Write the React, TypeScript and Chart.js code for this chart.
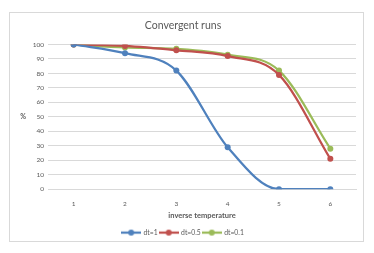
import React, { useEffect, useRef } from "react";
import { Chart, registerables } from "chart.js";

Chart.register(...registerables);

const categories = ["1", "2", "3", "4", "5", "6"];
const seriesNames = ["dt=1", "dt=0.5", "dt=0.1"];
const dt1 = [100, 94, 82, 29, 0, 0];
const dt05 = [100, 99, 96, 92, 79, 21];
const dt01 = [100, 98, 97, 93, 82, 28];
const colors = ["#4F81BD", "#C0504D", "#9BBB59"];
const FONT = "Lato, 'Liberation Sans', sans-serif";
const TEXT = "#595959";

function legendIcon(color: string): HTMLCanvasElement {
  const c = document.createElement("canvas");
  c.width = 20;
  c.height = 8;
  const ctx = c.getContext("2d")!;
  ctx.strokeStyle = color;
  ctx.lineWidth = 2.25;
  ctx.beginPath();
  ctx.moveTo(0, 4);
  ctx.lineTo(20, 4);
  ctx.stroke();
  ctx.fillStyle = color;
  ctx.beginPath();
  ctx.arc(10, 4, 3, 0, Math.PI * 2);
  ctx.fill();
  return c;
}

const framePlugin = {
  id: "frame",
  beforeDraw(chart: any) {
    const ctx = chart.ctx;
    ctx.save();
    ctx.fillStyle = "#ffffff";
    ctx.fillRect(0, 0, chart.width, chart.height);
    ctx.strokeStyle = "#d9d9d9";
    ctx.lineWidth = 1;
    ctx.strokeRect(9.5, 12.5, 354, 229);
    ctx.restore();
  },
  afterDraw(chart: any) {
    const ctx = chart.ctx;
    const y = chart.scales.y;
    ctx.save();
    ctx.fillStyle = TEXT;
    ctx.font = "bold 7px " + FONT;
    ctx.textAlign = "center";
    ctx.textBaseline = "middle";
    ctx.fillText("%", 23, (y.top + y.bottom) / 2);
    ctx.restore();
  },
};

export default function App() {
  const ref = useRef<HTMLCanvasElement>(null);
  useEffect(() => {
    const data = [dt1, dt05, dt01];
    const icons = colors.map(legendIcon);
    const chart = new Chart(ref.current!, {
      type: "line",
      data: {
        labels: categories,
        datasets: data.map((d, i) => ({
          label: seriesNames[i],
          data: d,
          borderColor: colors[i],
          backgroundColor: colors[i],
          borderWidth: 2.25,
          pointRadius: 3,
          pointHoverRadius: 3,
          pointBorderWidth: 0,
          cubicInterpolationMode: "monotone" as const,
          fill: false,
        })),
      },
      options: {
        animation: false,
        responsive: false,
        maintainAspectRatio: false,
        layout: { padding: { left: 10, right: 18, top: 12, bottom: 7 } },
        plugins: {
          title: {
            display: true,
            text: "Convergent runs",
            color: TEXT,
            font: { family: FONT, size: 10.5, weight: "normal" },
            padding: { top: 7.7, bottom: 12.2 },
          },
          legend: {
            position: "bottom",
            labels: {
              color: TEXT,
              font: { family: FONT, size: 6.8 },
              usePointStyle: true,
              pointStyleWidth: 18,
              boxHeight: 8,
              padding: 2,
              generateLabels: (ch: any) => {
                const items = Chart.defaults.plugins.legend.labels.generateLabels(ch);
                return items.map((it: any, i: number) => ({ ...it, pointStyle: icons[i] }));
              },
            },
          },
          tooltip: { enabled: false },
        },
        scales: {
          x: {
            offset: true,
            grid: { display: false, drawTicks: false },
            border: { display: true, color: "#d9d9d9" },
            ticks: { color: TEXT, font: { family: FONT, size: 6.5 }, padding: 11 },
            title: {
              display: true,
              text: "inverse temperature",
              color: TEXT,
              font: { family: FONT, size: 7.5, weight: "bold" },
              padding: { top: 0, bottom: 7.5 },
            },
            afterFit: (s: any) => { s.height = 38; },
          },
          y: {
            min: 0,
            max: 100,
            ticks: { stepSize: 10, color: TEXT, font: { family: FONT, size: 6.5 }, padding: 4 },
            grid: { color: "#d9d9d9", drawTicks: false },
            border: { display: false },
            afterFit: (s: any) => { s.width = 38; },
          },
        },
      },
      plugins: [framePlugin],
    } as any);
    return () => chart.destroy();
  }, []);
  return (
    <div style={{ position: "absolute", left: 0, top: 0, width: 374, height: 253 }}>
      <canvas ref={ref} width={374} height={253} />
    </div>
  );
}
